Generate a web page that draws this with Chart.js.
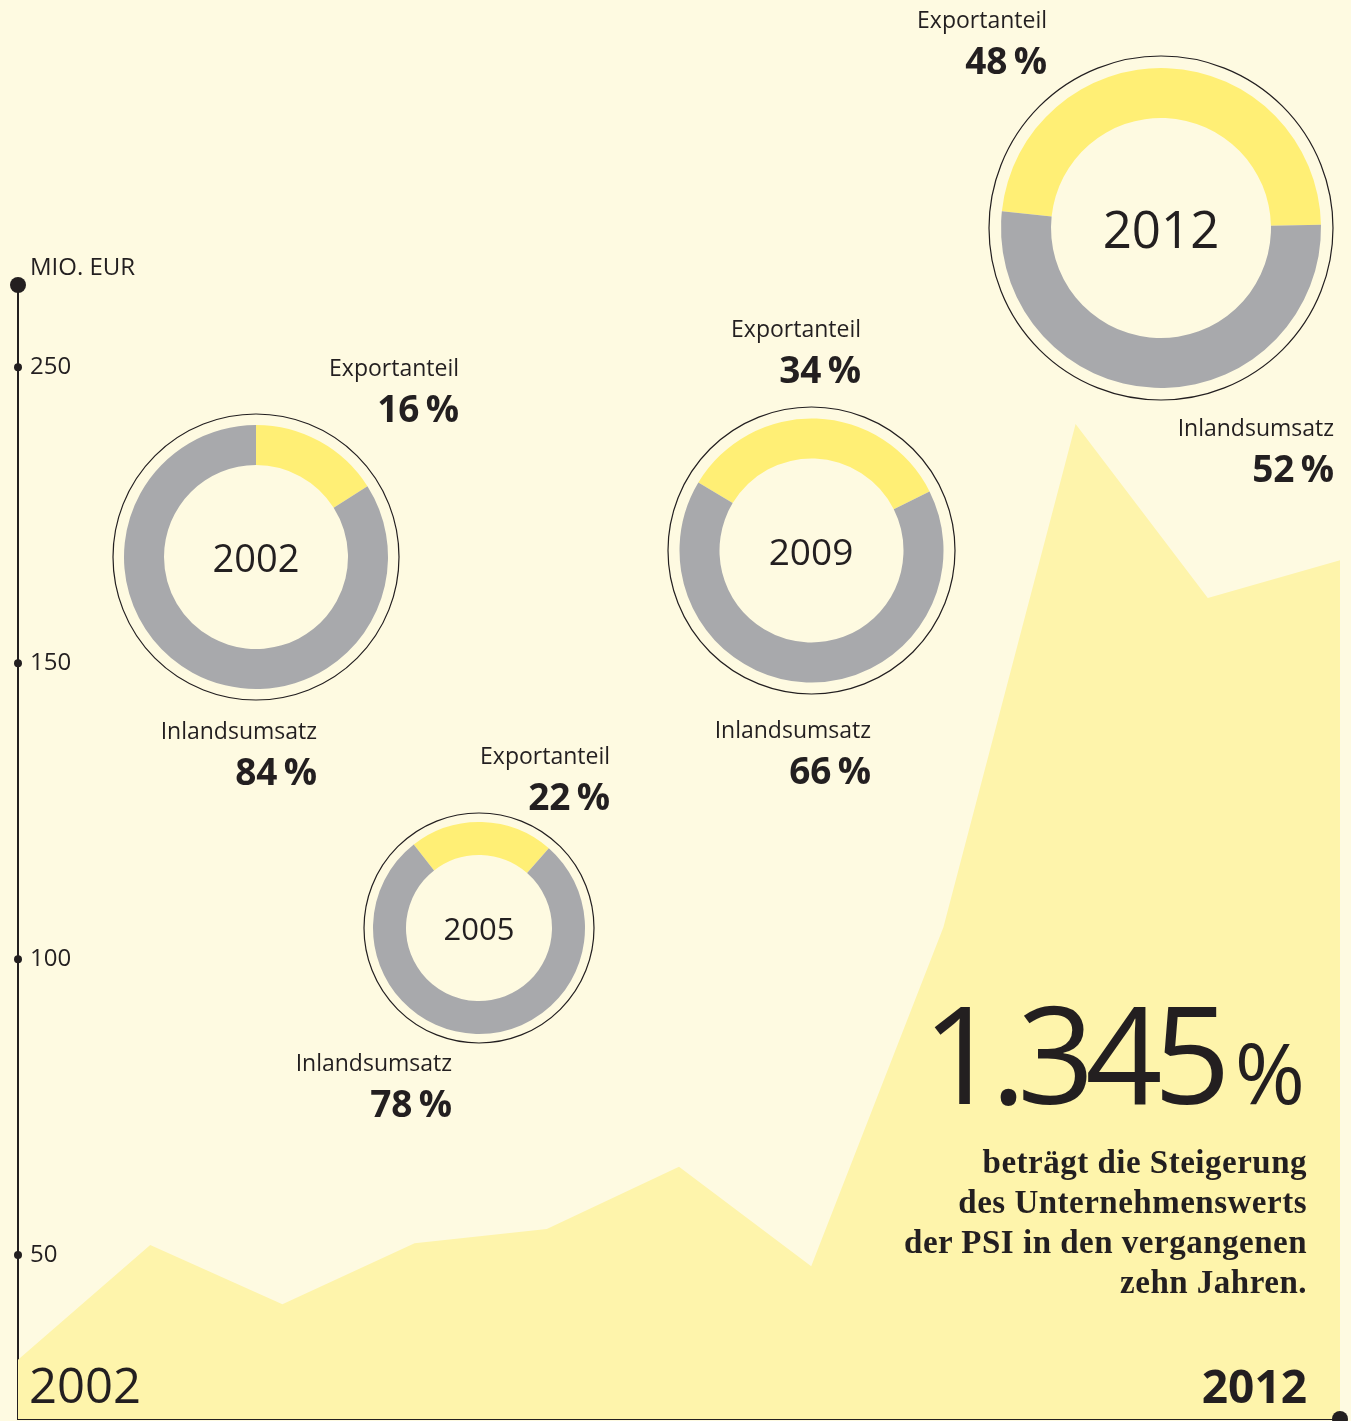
<!DOCTYPE html>
<html lang="de">
<head>
<meta charset="utf-8">
<title>PSI Unternehmenswert 2002–2012</title>
<script src="https://cdn.jsdelivr.net/npm/chart.js"></script>
<style>
  html, body { margin: 0; padding: 0; }
  body {
    width: 1351px; height: 1421px; overflow: hidden; position: relative;
    background: #fefae1; color: #231f20;
    font-family: "Open Sans", "Noto Sans", sans-serif;
  }
  canvas { position: absolute; }
  .txt { position: absolute; line-height: 1; white-space: nowrap; }
  .lbl { font-size: 23px; font-weight: 400; }
  .pct { font-size: 37px; font-weight: 700; }
  .year { position: absolute; display: flex; align-items: center; justify-content: center; font-weight: 400; line-height: 1; }
  .serif { font-family: "Liberation Serif", "DejaVu Serif", serif; font-weight: 700; font-size: 33px; letter-spacing: 0.5px; line-height: 40px; text-align: right; }
</style>
</head>
<body>
<canvas id="areaChart" width="1351" height="1421" style="left:0;top:0"></canvas>

<script>
// company value (Mio. EUR), one point per year
const years = ['2002', '2003', '2004', '2005', '2006', '2007', '2008', '2009', '2010', '2011', '2012'];
const companyValue = [32.3, 51.7, 41.7, 52.0, 54.4, 64.9, 48.1, 105.4, 190.4, 161.0, 167.4];

// y axis: tick positions and the labels printed next to them
const tickValues = [50, 100, 150, 200];
const tickLabels = ['50', '100', '150', '250'];

// doughnuts: export vs domestic share
const pieYears = ['2002', '2005', '2009', '2012'];
const exportShare = [16, 22, 34, 48];
const domesticShare = [84, 78, 66, 52];
const shareLabels = ['Exportanteil', 'Inlandsumsatz'];

const ink = '#231f20';
const areaColor = '#fef4ab';
const yellow = '#ffef75';
const gray = '#a8a9ac';

// placement of each doughnut and its labels (pixels)
const pieLayout = [
  { cx: 256, cy: 557, outer: 132, inner: 92, ring: 143, rotation: 0, yearSize: 38,
    exp: { right: 459, top: 360 }, dom: { right: 317, top: 723 } },
  { cx: 479, cy: 928, outer: 106, inner: 73, ring: 115, rotation: -38, yearSize: 31,
    exp: { right: 610, top: 748 }, dom: { right: 452, top: 1055 } },
  { cx: 811, cy: 550, outer: 132, inner: 92, ring: 143.5, rotation: -59, yearSize: 37,
    exp: { right: 861, top: 321 }, dom: { right: 871, top: 722 } },
  { cx: 1161, cy: 228, outer: 160, inner: 110, ring: 172, rotation: -84, yearSize: 51,
    exp: { right: 1047, top: 12 }, dom: { right: 1334, top: 420 } },
];

// dots on the axes
const axisDots = {
  id: 'axisDots',
  afterDraw(chart) {
    const { ctx, chartArea } = chart;
    const yScale = chart.scales.y;
    const dot = (x, y, r) => {
      ctx.beginPath();
      ctx.arc(x, y, r, 0, Math.PI * 2);
      ctx.fill();
    };
    ctx.save();
    ctx.fillStyle = ink;
    yScale.ticks.forEach((t) => dot(chartArea.left, yScale.getPixelForValue(t.value), 4));
    dot(chartArea.left, chartArea.top, 8);
    dot(chartArea.right, chartArea.bottom, 8);
    ctx.restore();
  },
};

const areaChart = new Chart('areaChart', {
  type: 'line',
  data: {
    labels: years,
    datasets: [
      {
        data: companyValue,
        fill: 'start',
        backgroundColor: areaColor,
        borderWidth: 0,
        pointRadius: 0,
        pointHoverRadius: 0,
        tension: 0,
      },
    ],
  },
  options: {
    responsive: false,
    animation: false,
    events: [],
    layout: { autoPadding: false, padding: { left: 6, right: 11, top: 285, bottom: 2 } },
    plugins: { legend: { display: false }, tooltip: { enabled: false } },
    scales: {
      x: {
        grid: { display: false, drawTicks: false, tickLength: 0 },
        ticks: { display: false },
        border: { display: true, color: ink, width: 2 },
        afterFit: (scale) => {
          scale.height = 0;
          scale.paddingLeft = 0;
          scale.paddingRight = 0;
        },
      },
      y: {
        min: 22.3,
        max: 213.9,
        grid: { display: false, drawTicks: false, tickLength: 0 },
        border: { display: true, color: ink, width: 2 },
        afterFit: (scale) => {
          scale.width = 12;
          scale.paddingTop = 0;
          scale.paddingBottom = 0;
        },
        afterBuildTicks: (scale) => {
          scale.ticks = tickValues.map((v) => ({ value: v }));
        },
        ticks: {
          mirror: true,
          padding: 12,
          color: ink,
          font: { family: '"Open Sans", sans-serif', size: 24 },
          callback: (value, i) => tickLabels[i],
        },
      },
    },
  },
  plugins: [axisDots],
});

// thin circle around each doughnut
const ringOutline = {
  id: 'ringOutline',
  afterDatasetsDraw(chart, args, opts) {
    const arc = chart.getDatasetMeta(0).data[0];
    const { ctx } = chart;
    ctx.save();
    ctx.beginPath();
    ctx.arc(arc.x, arc.y, opts.radius, 0, Math.PI * 2);
    ctx.lineWidth = 1.2;
    ctx.strokeStyle = ink;
    ctx.stroke();
    ctx.restore();
  },
};

const addText = (cls, html, style) => {
  const el = document.createElement('div');
  el.className = 'txt ' + cls;
  el.innerHTML = html;
  Object.assign(el.style, style);
  document.body.appendChild(el);
  return el;
};

// label block: name on top, bold percentage below, right aligned
const addShareLabel = (pos, name, value) => {
  const right = 1351 - pos.right + 'px';
  addText('lbl', name, { right: right, top: pos.top - 4 + 'px' });
  addText('pct', value + '\u2009%', { right: right, top: pos.top + 35 - 6 + 'px' });
};

pieYears.forEach((year, i) => {
  const L = pieLayout[i];
  const size = Math.ceil(L.ring * 2 + 8);
  const canvas = document.createElement('canvas');
  canvas.width = size;
  canvas.height = size;
  canvas.style.left = L.cx - size / 2 + 'px';
  canvas.style.top = L.cy - size / 2 + 'px';
  document.body.appendChild(canvas);

  new Chart(canvas, {
    type: 'doughnut',
    data: {
      labels: shareLabels,
      datasets: [
        {
          data: [exportShare[i], domesticShare[i]],
          backgroundColor: [yellow, gray],
          borderWidth: 0,
        },
      ],
    },
    options: {
      responsive: false,
      animation: false,
      events: [],
      radius: L.outer,
      cutout: (L.inner / L.outer) * 100 + '%',
      rotation: L.rotation,
      plugins: {
        legend: { display: false },
        tooltip: { enabled: false },
        ringOutline: { radius: L.ring },
      },
    },
    plugins: [ringOutline],
  });

  const yl = document.createElement('div');
  yl.className = 'year';
  yl.textContent = year;
  Object.assign(yl.style, {
    left: L.cx - 100 + 'px', top: L.cy - 50 + 'px', width: '200px', height: '100px',
    fontSize: L.yearSize + 'px',
  });
  document.body.appendChild(yl);

  addShareLabel(L.exp, shareLabels[0], exportShare[i]);
  addShareLabel(L.dom, shareLabels[1], domesticShare[i]);
});

// axis caption and range labels
addText('', 'MIO. EUR', { left: '30px', top: '254px', fontSize: '24px' });
addText('', years[0], { left: '29px', top: '1360px', fontSize: '49px', fontWeight: '400' });
addText('', years[years.length - 1], { right: '44px', top: '1362px', fontSize: '46px', fontWeight: '700' });

// headline figure and text
addText('', '<span style="font-size:135px;letter-spacing:-9px">1.345</span><span style="font-size:85px;margin-left:13px">%</span>',
  { right: '46px', top: '985px', fontWeight: '400' });
addText('serif', 'beträgt die Steigerung<br>des Unternehmenswerts<br>der PSI in den vergangenen<br>zehn Jahren.',
  { right: '44px', top: '1142px', lineHeight: '40px' });
</script>
</body>
</html>
